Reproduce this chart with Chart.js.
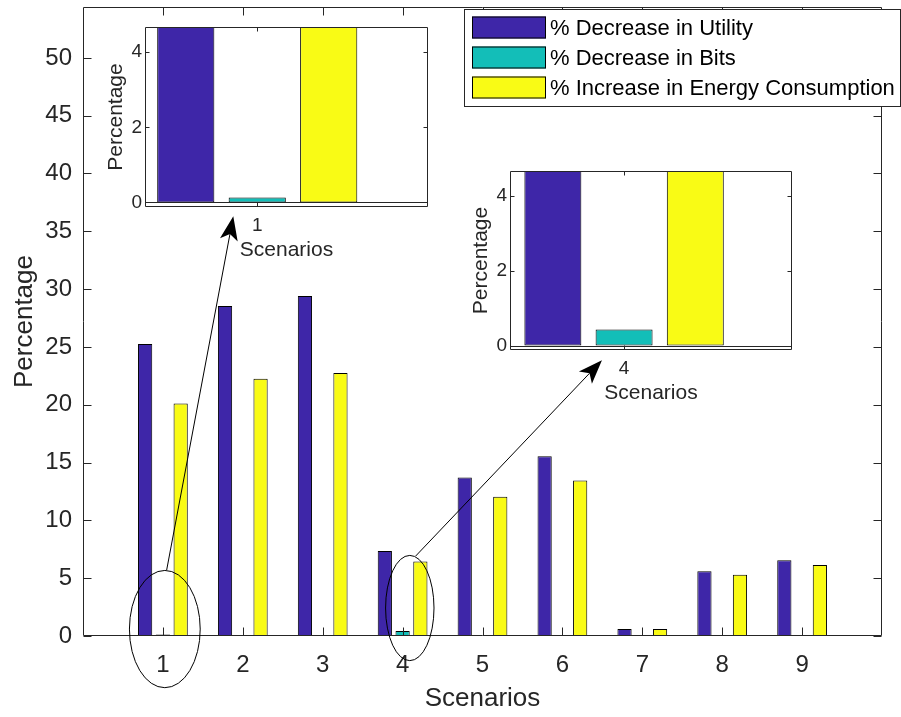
<!DOCTYPE html>
<html>
<head>
<meta charset="utf-8">
<script src="https://cdn.jsdelivr.net/npm/chart.js@4.4.0/dist/chart.umd.min.js"></script>
<style>
  html, body { margin: 0; padding: 0; background: #fff; }
  #wrap { position: relative; width: 901px; height: 717px; overflow: hidden; }
  #wrap canvas { position: absolute; }
</style>
</head>
<body>
<div id="wrap">
  <canvas id="mainChart" width="901" height="717" style="left:0;top:0"></canvas>
</div>
<script>
const FONT = '"Liberation Sans", Arial, Helvetica, sans-serif';
const INK = '#262626';

// Data
const scenarios = [1, 2, 3, 4, 5, 6, 7, 8, 9];
const utilityDecrease = [25.25, 28.55, 29.4, 7.35, 13.7, 15.55, 0.6, 5.6, 6.55];
const bitsDecrease = [0.13, 0.02, 0.02, 0.43, 0.02, 0.02, 0.02, 0.02, 0.02];
const energyIncrease = [20.1, 22.25, 22.75, 6.45, 12.05, 13.45, 0.6, 5.3, 6.15];
const seriesLabels = ['% Decrease in Utility', '% Decrease in Bits', '% Increase in Energy Consumption'];
const seriesColors = ['#3E26A8', '#13BEB8', '#F9FB15'];
const mainYTicks = [0, 5, 10, 15, 20, 25, 30, 35, 40, 45, 50];
const insetYTicks = [0, 2, 4];

// zoom callouts, in main chart data coordinates
const ellipses = [
    { x: 1.024, y: 0.6, rx: 0.443, ry: 5.07 },
    { x: 4.09, y: 2.42, rx: 0.303, ry: 4.55 },
];
const arrows = [
    { from: [1.047, 5.70], to: [1.881, 36.3] },
    { from: [4.163, 6.91], to: [6.495, 23.85] },
];

// inset views (scenario index, visible x range, chart area on the page)
const insets = [
    { idx: 0, xMin: 0.651, xMax: 1.531, area: { left: 145, top: 27, width: 283, height: 180 } },
    { idx: 3, xMin: 3.644, xMax: 4.524, area: { left: 510, top: 171, width: 282, height: 179 } },
];
const insetYRange = [-0.12, 4.67];

const seriesValues = [utilityDecrease, bitsDecrease, energyIncrease];

function makeDatasets(indices, extra) {
    return seriesValues.map((vals, s) => Object.assign({
        label: seriesLabels[s],
        data: indices.map(i => ({ x: scenarios[i], y: vals[i] })),
        backgroundColor: seriesColors[s],
        borderColor: '#000',
        borderWidth: 1,
        borderSkipped: false,
    }, extra));
}

// force a fixed axis size and drop the label overhang padding
function fixSize(prop, size) {
    return s => {
        s[prop] = size;
        s.paddingTop = s.paddingBottom = s.paddingLeft = s.paddingRight = 0;
    };
}

// MATLAB-like box with inward ticks
function drawBox(chart, len, baseline) {
    const { ctx, chartArea: a, scales: { x, y } } = chart;
    const L = Math.round(a.left) + 0.5, R = Math.round(a.right) - 0.5;
    const T = Math.round(a.top) + 0.5, B = Math.round(a.bottom) - 0.5;
    ctx.save();
    ctx.strokeStyle = INK;
    ctx.lineWidth = 1;
    ctx.beginPath();
    ctx.rect(L, T, R - L, B - T);
    x.ticks.forEach(t => {
        const px = Math.round(x.getPixelForValue(t.value)) + 0.5;
        ctx.moveTo(px, B); ctx.lineTo(px, B - len);
        ctx.moveTo(px, T); ctx.lineTo(px, T + len);
    });
    y.ticks.forEach(t => {
        const py = Math.round(y.getPixelForValue(t.value)) + 0.5;
        ctx.moveTo(L, py); ctx.lineTo(L + len, py);
        ctx.moveTo(R, py); ctx.lineTo(R - len, py);
    });
    if (baseline) {
        const py = Math.round(y.getPixelForValue(0)) + 0.5;
        ctx.moveTo(L, py); ctx.lineTo(R, py);
    }
    ctx.stroke();
    ctx.restore();
}

function drawArrow(ctx, x1, y1, x2, y2) {
    const ang = Math.atan2(y2 - y1, x2 - x1);
    const hl = 24, hw = 9, notch = 18;
    const bx = x2 - Math.cos(ang) * notch, by = y2 - Math.sin(ang) * notch;
    ctx.beginPath();
    ctx.moveTo(x1, y1);
    ctx.lineTo(bx, by);
    ctx.stroke();
    const cx = x2 - Math.cos(ang) * hl, cy = y2 - Math.sin(ang) * hl;
    const nx = -Math.sin(ang) * hw, ny = Math.cos(ang) * hw;
    ctx.beginPath();
    ctx.moveTo(x2, y2);
    ctx.lineTo(cx + nx, cy + ny);
    ctx.lineTo(bx, by);
    ctx.lineTo(cx - nx, cy - ny);
    ctx.closePath();
    ctx.fill();
}

const mainDecor = {
    id: 'mainDecor',
    afterDraw(chart) {
        const { ctx, scales: { x, y } } = chart;
        drawBox(chart, 8, false);
        ctx.save();
        ctx.strokeStyle = '#000';
        ctx.fillStyle = '#000';
        ctx.lineWidth = 1;
        ellipses.forEach(e => {
            const cx = x.getPixelForValue(e.x), cy = y.getPixelForValue(e.y);
            const rx = x.getPixelForValue(e.x + e.rx) - cx;
            const ry = cy - y.getPixelForValue(e.y + e.ry);
            ctx.beginPath();
            ctx.ellipse(cx, cy, rx, ry, 0, 0, Math.PI * 2);
            ctx.stroke();
        });
        arrows.forEach(a => {
            drawArrow(ctx, x.getPixelForValue(a.from[0]), y.getPixelForValue(a.from[1]),
                x.getPixelForValue(a.to[0]), y.getPixelForValue(a.to[1]));
        });
        // legend
        const lg = { left: 464.5, top: 9.5, right: 900.5, bottom: 106.5 };
        ctx.fillStyle = '#fff';
        ctx.fillRect(lg.left, lg.top, lg.right - lg.left, lg.bottom - lg.top);
        ctx.strokeStyle = INK;
        ctx.strokeRect(lg.left, lg.top, lg.right - lg.left, lg.bottom - lg.top);
        ctx.font = '22px ' + FONT;
        ctx.textBaseline = 'middle';
        chart.data.datasets.forEach((ds, i) => {
            const cy = 27.5 + i * 30;
            ctx.fillStyle = ds.backgroundColor;
            ctx.fillRect(472, cy - 11, 74, 22);
            ctx.strokeStyle = '#000';
            ctx.strokeRect(472.5, cy - 10.5, 73, 21);
            ctx.fillStyle = '#000';
            ctx.fillText(ds.label, 550, cy + 1);
        });
        ctx.restore();
    }
};

new Chart(document.getElementById('mainChart').getContext('2d'), {
    type: 'bar',
    data: { datasets: makeDatasets(scenarios.map((s, i) => i)) },
    options: {
        responsive: false,
        animation: false,
        layout: { padding: { top: 7, right: 19, left: 0, bottom: 0 } },
        datasets: { bar: { categoryPercentage: 0.667, barPercentage: 0.8 } },
        plugins: { legend: { display: false }, tooltip: { enabled: false } },
        scales: {
            x: {
                type: 'linear', min: 0, max: 10, offset: false,
                afterBuildTicks: s => { s.ticks = scenarios.map(v => ({ value: v })); },
                afterFit: fixSize('height', 81),
                grid: { display: false, drawTicks: false }, border: { display: false },
                ticks: { font: { family: FONT, size: 24 }, color: INK, padding: 15, autoSkip: false, maxRotation: 0 },
                title: { display: true, text: 'Scenarios', font: { family: FONT, size: 26 }, color: INK, padding: { top: 0, bottom: 3 } },
            },
            y: {
                min: 0, max: 54.4,
                afterBuildTicks: s => { s.ticks = mainYTicks.map(v => ({ value: v })); },
                afterFit: fixSize('width', 83),
                grid: { display: false, drawTicks: false }, border: { display: false },
                ticks: { font: { family: FONT, size: 24 }, color: INK, padding: 11 },
                title: { display: true, text: 'Percentage', font: { family: FONT, size: 26 }, color: INK, padding: { top: 9, bottom: 0 } },
            },
        },
    },
    plugins: [mainDecor],
});

// Insets
const insetDecor = {
    id: 'insetDecor',
    beforeDraw(chart) {
        const { ctx, chartArea: a } = chart;
        ctx.save();
        ctx.fillStyle = '#fff';
        ctx.fillRect(a.left, a.top, a.right - a.left, a.bottom - a.top);
        ctx.restore();
    },
    afterDraw(chart) { drawBox(chart, 4, true); }
};

insets.forEach(ins => {
    const padL = 52, padT = 8, padR = 8, padB = 62;
    const cv = document.createElement('canvas');
    cv.width = ins.area.width + padL + padR;
    cv.height = ins.area.height + padT + padB;
    cv.style.left = (ins.area.left - padL) + 'px';
    cv.style.top = (ins.area.top - padT) + 'px';
    document.getElementById('wrap').appendChild(cv);
    new Chart(cv.getContext('2d'), {
        type: 'bar',
        data: { datasets: makeDatasets([ins.idx], { clip: 0 }) },
        options: {
            responsive: false,
            animation: false,
            layout: { padding: { top: padT, right: padR, left: 0, bottom: 0 } },
            datasets: { bar: { categoryPercentage: 0.6667 / (ins.xMax - ins.xMin), barPercentage: 0.8 } },
            plugins: { legend: { display: false }, tooltip: { enabled: false } },
            scales: {
                x: {
                    type: 'linear', min: ins.xMin, max: ins.xMax, offset: false,
                    afterBuildTicks: s => { s.ticks = [{ value: scenarios[ins.idx] }]; },
                    afterFit: fixSize('height', padB),
                    grid: { display: false, drawTicks: false }, border: { display: false },
                    ticks: { font: { family: FONT, size: 19 }, color: INK, padding: 7, autoSkip: false, maxRotation: 0 },
                    title: { display: true, text: 'Scenarios', font: { family: FONT, size: 21 }, color: INK, padding: { top: 0, bottom: 6 } },
                },
                y: {
                    min: insetYRange[0], max: insetYRange[1],
                    afterBuildTicks: s => { s.ticks = insetYTicks.map(v => ({ value: v })); },
                    afterFit: fixSize('width', padL),
                    grid: { display: false, drawTicks: false }, border: { display: false },
                    ticks: { font: { family: FONT, size: 19 }, color: INK, padding: 3 },
                    title: { display: true, text: 'Percentage', font: { family: FONT, size: 21 }, color: INK, padding: { top: 11, bottom: 0 } },
                },
            },
        },
        plugins: [insetDecor],
    });
});
</script>
</body>
</html>
